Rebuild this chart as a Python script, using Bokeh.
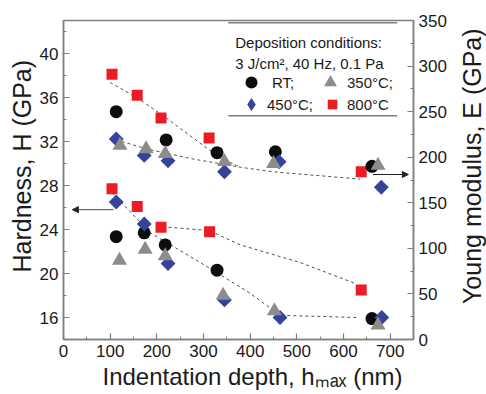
from math import pi
from bokeh.plotting import figure
from bokeh.layouts import row
from bokeh.models import (Range1d, LinearAxis, SingleIntervalTicker, Label, Legend,
                          LegendItem, Arrow, NormalHead, BoxAnnotation, Title)
from bokeh.embed import file_html
from bokeh.resources import INLINE

FONT = "Liberation Sans"
BLACK = "#0d0d0d"
GRAY = "#8c8c8c"
BLUE = "#36429c"
RED = "#ec1c24"
AX = "#7f7f7f"
TXT = "#1a1a1a"

# ---- Young modulus E (GPa), right axis ----
rt_E_x = [113, 220, 329, 454, 661]
rt_E = [250, 219, 205, 206, 190]
c350_E_x = [121, 177, 218, 345, 450, 674]
c350_E = [213, 209, 204, 195, 193, 191]
c450_E_x = [113, 173, 224, 345, 462, 681]
c450_E = [220, 202, 196, 184, 195, 167]
c800_E_x = [104, 158, 209, 312, 638]
c800_E = [291, 268, 243, 221, 184]

# ---- Hardness H (GPa), left axis ----
rt_H_x = [113, 173, 218, 329, 661]
rt_H = [23.35, 23.7, 22.6, 20.3, 15.9]
c350_H_x = [120, 175, 218, 342, 452, 674]
c350_H = [21.2, 22.2, 21.6, 18.0, 16.6, 15.3]
c450_H_x = [113, 173, 224, 345, 464, 682]
c450_H = [26.5, 24.5, 20.9, 17.6, 16.0, 16.0]
c800_H_x = [104, 158, 209, 313, 638]
c800_H = [27.7, 26.1, 24.2, 23.8, 18.5]

# ---- guide (trend) lines ----
trendA_x = [100, 158, 207, 278, 336, 379]
trendA_E = [282, 265, 248, 221, 199, 189]
trendB_x = [100, 179, 278, 379, 449, 636]
trendB_E = [221, 209, 198, 189, 184, 176]
trendC_x = [96, 186, 293, 400, 464, 629]
trendC_H = [27.7, 23.7, 21.0, 18.2, 16.2, 16.0]
trendD_x = [212, 312, 379, 507, 625]
trendD_H = [24.25, 23.9, 22.6, 21.0, 19.1]

p = figure(width=454, height=394, x_range=Range1d(0, 750), y_range=Range1d(14, 43),
           output_backend="svg", toolbar_location=None,
           min_border_left=63, min_border_right=41, min_border_top=20, min_border_bottom=55)
p.extra_y_ranges = {"E": Range1d(0, 350)}
p.grid.visible = False
p.outline_line_color = AX
p.outline_line_width = 1.5
p.background_fill_color = "white"
p.border_fill_color = "white"

p.xaxis.ticker = SingleIntervalTicker(interval=100, num_minor_ticks=2)
p.yaxis.ticker = SingleIntervalTicker(interval=4, num_minor_ticks=2)
right = LinearAxis(y_range_name="E", ticker=SingleIntervalTicker(interval=50, num_minor_ticks=2))
p.add_layout(right, "right")

for ax in [p.xaxis[0], p.yaxis[0], right]:
    ax.axis_line_color = AX
    ax.axis_line_width = 1.5
    ax.major_tick_line_color = AX
    ax.minor_tick_line_color = AX
    ax.major_tick_line_width = 1.2
    ax.major_tick_in = 6
    ax.major_tick_out = 0
    ax.minor_tick_in = 3
    ax.minor_tick_out = 0
    ax.major_label_text_font = FONT
    ax.major_label_text_font_size = "17px"
    ax.major_label_text_color = TXT
    ax.major_label_standoff = 5

dash = dict(line_dash="3 3", line_color="#505050", line_width=1)
p.line(trendA_x, trendA_E, y_range_name="E", **dash)
p.line(trendB_x, trendB_E, y_range_name="E", **dash)
p.line(trendC_x, trendC_H, **dash)
p.line(trendD_x, trendD_H, **dash)

def pts(x, y, kind, rng="default"):
    if kind == "800":
        return p.scatter(x, y, y_range_name=rng, marker="square", size=11, fill_color=RED, line_color=None)
    if kind == "RT":
        return p.scatter(x, y, y_range_name=rng, marker="circle", size=13, fill_color=BLACK, line_color=None)
    if kind == "450":
        return p.scatter(x, y, y_range_name=rng, marker="square", angle=pi / 4, size=10.5, fill_color=BLUE, line_color=None)
    return p.scatter(x, y, y_range_name=rng, marker="triangle", size=15, fill_color=GRAY, line_color=None)

rE800 = pts(c800_E_x, c800_E, "800", "E")
rERT = pts(rt_E_x, rt_E, "RT", "E")
rE450 = pts(c450_E_x, c450_E, "450", "E")
rE350 = pts(c350_E_x, c350_E, "350", "E")
pts(c800_H_x, c800_H, "800")
pts(rt_H_x, rt_H, "RT")
pts(c450_H_x, c450_H, "450")
pts(c350_H_x, c350_H, "350")
# hidden renderer of the 450 series, used only for a diamond-shaped legend key
key450 = p.scatter(c450_E_x, c450_E, y_range_name="E", marker="diamond",
                   fill_color=BLUE, line_color=None, visible=False)

# arrows pointing to the axes
p.add_layout(Arrow(end=NormalHead(size=6, fill_color="#222222", line_color="#222222"),
                   x_start=663, y_start=29.0, x_end=739, y_end=29.0,
                   line_color="#222222", line_width=1))
p.add_layout(Arrow(end=NormalHead(size=6, fill_color="#222222", line_color="#222222"),
                   x_start=107, y_start=25.8, x_end=19, y_end=25.8,
                   line_color="#444444", line_width=1))

# legend block
for yv in (42.79, 34.34):
    p.add_layout(BoxAnnotation(left=353, right=715, top=yv + 0.07, bottom=yv - 0.07,
                               fill_color=AX, fill_alpha=1, line_alpha=0))

def lab(fig, text, x, y, size, align="left", baseline="middle", angle=0.0):
    fig.add_layout(Label(x=x, y=y, text=text, text_align=align, angle=angle,
                         text_baseline=baseline, text_font=FONT, text_font_size=size,
                         text_color=TXT))

lab(p, "Deposition conditions:", 368, 40.97, "15px")
lab(p, "3 J/cm\u00b2, 40 Hz, 0.1 Pa", 368, 39.06, "15px")

def key(label, rend, loc, box, standoff):
    lg = Legend(items=[LegendItem(label=label, renderers=[rend])], location=loc,
                glyph_width=box, glyph_height=box, label_standoff=standoff, spacing=0,
                padding=0, margin=0, border_line_alpha=0, background_fill_alpha=0,
                label_text_font=FONT, label_text_font_size="15px", label_text_color=TXT)
    p.add_layout(lg)

key("RT;", rERT, (173, 242), 30, 6)
key("350\u00b0C;", rE350, (251, 241), 32, 1)
key("450\u00b0C;", key450, (172, 219), 32, 0)
key("800\u00b0C", rE800, (257, 223), 24, 3)

# left and bottom titles
p.add_layout(Title(text="Hardness, H (GPa)", align="left", offset=67, standoff=2,
                   text_font=FONT, text_font_size="25px", text_font_style="normal",
                   text_color=TXT), "left")
p.add_layout(Title(text="Indentation depth, h\u2098\u2090\u2093 (nm)", align="left", offset=39,
                   standoff=2, text_font=FONT, text_font_size="24px",
                   text_font_style="normal", text_color=TXT), "below")

# right-hand title strip (reads bottom-to-top)
p2 = figure(width=32, height=394, x_range=Range1d(0, 32), y_range=Range1d(0, 394),
            output_backend="svg", toolbar_location=None, min_border=0,
            x_axis_location=None, y_axis_location=None)
p2.outline_line_color = None
p2.grid.visible = False
p2.background_fill_color = "white"
p2.border_fill_color = "white"
lab(p2, "Young modulus, E (GPa)", 17, 214, "25px", align="center", angle=pi / 2)

layout = row(p, p2, spacing=0)
open("out.html", "w").write(file_html(layout, INLINE))
